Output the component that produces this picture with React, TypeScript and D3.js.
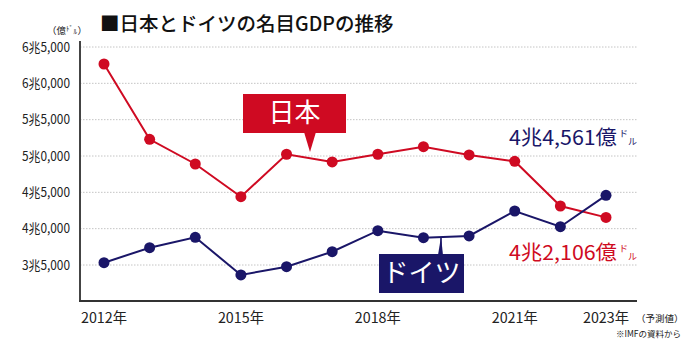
import React from "react";
import * as d3 from "d3";

const years = [2012, 2013, 2014, 2015, 2016, 2017, 2018, 2019, 2020, 2021, 2022, 2023];
const japan = [62660, 52300, 48900, 44400, 50240, 49180, 50240, 51280, 50140, 49270, 43120, 41550];
const germany = [35320, 37380, 38810, 33630, 34770, 36830, 39720, 38760, 39000, 42430, 40270, 44590];
const yTicks = [65000, 60000, 55000, 50000, 45000, 40000, 35000];
const yTickLabels = ["6兆5,000", "6兆0,000", "5兆5,000", "5兆0,000", "4兆5,000", "4兆0,000", "3兆5,000"];
const xTicks = [2012, 2015, 2018, 2021, 2023];

const RED = "#cf0a22";
const NAVY = "#1a1668";
const FONT = "'Noto Sans CJK JP', 'Noto Sans', sans-serif";

export default function App() {
  const x = d3.scaleLinear().domain([2012, 2023]).range([104, 606]);
  const y = d3.scaleLinear().domain([35000, 65000]).range([265, 47]);
  const line = d3
    .line<number>()
    .x((_, i) => x(years[i]))
    .y((d) => y(d));

  return (
    <svg
      width={700}
      height={344}
      style={{ position: "absolute", left: 0, top: 0, background: "#fff" }}
      fontFamily={FONT}
    >
      {/* title */}
      <text x={100} y={31} fontSize={19.5} fontWeight={500} fill="#111">
        ■日本とドイツの名目GDPの推移
      </text>
      <text x={47} y={34} fontSize={9.5} fill="#222">（億</text>
      <text x={66} y={31} fontSize={7} fill="#222">ﾄﾞ</text>
      <text x={73.5} y={34} fontSize={7} fill="#222">ﾙ</text>
      <text x={77.5} y={34} fontSize={9.5} fill="#222">）</text>

      {/* grid */}
      {yTicks.map((t, i) => (
        <g key={t}>
          <line x1={80} x2={637} y1={y(t)} y2={y(t)} stroke="#c4c4c4" strokeWidth={1} strokeDasharray="1.5,1.5" />
          <text x={70} y={y(t)} dy="0.36em" textAnchor="end" fontSize={13} fill="#222"
            textLength={48} lengthAdjust="spacingAndGlyphs">
            {yTickLabels[i]}
          </text>
        </g>
      ))}

      {/* axes */}
      <line x1={80} x2={80} y1={41} y2={302} stroke="#444" strokeWidth={2} />
      <line x1={79} x2={637} y1={301} y2={301} stroke="#333" strokeWidth={2} />

      {xTicks.map((t) => (
        <text key={t} x={x(t)} y={323} textAnchor="middle" fontSize={14.5} fill="#222"
          textLength={46} lengthAdjust="spacingAndGlyphs">
          {t}年
        </text>
      ))}
      <text x={636} y={322} fontSize={9.5} fill="#222">（予測値）</text>
      <text x={681} y={337} textAnchor="end" fontSize={8.5} fill="#222">※IMFの資料から</text>

      {/* Japan */}
      <path d={line(japan) || ""} fill="none" stroke={RED} strokeWidth={2} />
      {japan.map((v, i) => (
        <circle key={"j" + i} cx={x(years[i])} cy={y(v)} r={5.5} fill={RED} />
      ))}
      {/* Germany */}
      <path d={line(germany) || ""} fill="none" stroke={NAVY} strokeWidth={2} />
      {germany.map((v, i) => (
        <circle key={"g" + i} cx={x(years[i])} cy={y(v)} r={5.5} fill={NAVY} />
      ))}

      {/* Japan label */}
      <rect x={243} y={94} width={103} height={39} fill={RED} />
      <path d="M304,132 L316,132 L310,152 Z" fill={RED} />
      <text x={294.5} y={122} textAnchor="middle" fontSize={26} fill="#fff">日本</text>

      {/* Germany label */}
      <rect x={379} y={254} width={85} height={39} fill={NAVY} />
      <path d="M438,255 L443,255 L441,237 Z" fill={NAVY} />
      <line x1={441} x2={441} y1={237} y2={255} stroke={NAVY} strokeWidth={1.5} />
      <text x={421.5} y={282} textAnchor="middle" fontSize={26} fill="#fff">ドイツ</text>

      {/* annotations */}
      <text x={509} y={145} fontSize={20.5} fill={NAVY} textLength={108} lengthAdjust="spacingAndGlyphs">
        4兆4,561億
      </text>
      <text x={619} y={137} fontSize={9} fill={NAVY}>ド</text>
      <text x={628} y={145} fontSize={9} fill={NAVY}>ル</text>

      <text x={509} y={260} fontSize={20.5} fill={RED} textLength={108} lengthAdjust="spacingAndGlyphs">
        4兆2,106億
      </text>
      <text x={619} y={252} fontSize={9} fill={RED}>ド</text>
      <text x={628} y={260} fontSize={9} fill={RED}>ル</text>
    </svg>
  );
}
